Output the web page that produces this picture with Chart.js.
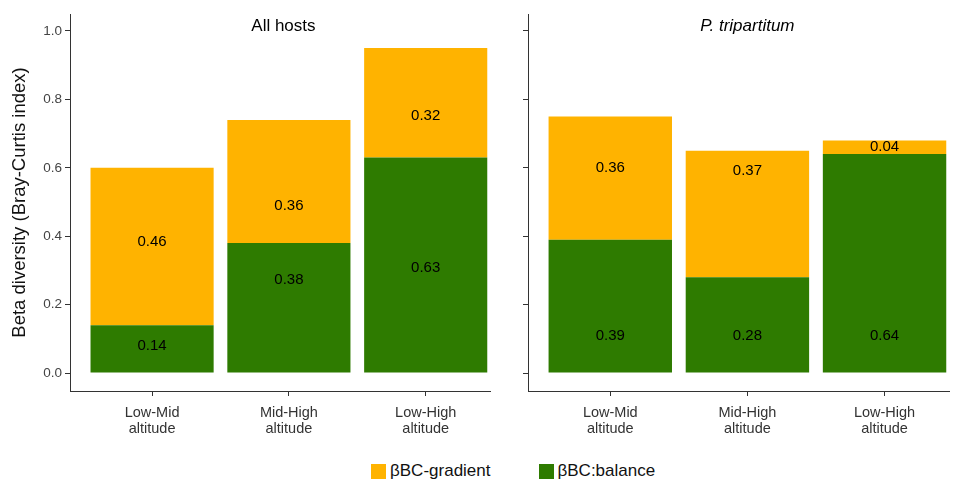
<!DOCTYPE html>
<html>
<head>
<meta charset="utf-8">
<script src="https://cdn.jsdelivr.net/npm/chart.js@4.4.1/dist/chart.umd.min.js"></script>
<style>
  body { margin: 0; background: #fff; width: 956px; height: 483px; overflow: hidden; position: relative; font-family: "Liberation Sans", Arial, sans-serif; }
  .panel { position: absolute; top: 0; height: 450px; }
  #legend { position: absolute; top: 461px; left: 371px; display: flex; font-size: 17px; color: #111; }
  .item { display: flex; align-items: center; }
  .item .sw { width: 15px; height: 15px; margin-right: 4px; }
</style>
</head>
<body>
<div class="panel" style="left:0;width:505px"><canvas id="c1" width="505" height="450"></canvas></div>
<div class="panel" style="left:505px;width:451px"><canvas id="c2" width="451" height="450"></canvas></div>
<div id="legend"></div>
<script>
// categories and values
var categorias = [['Low-Mid', 'altitude'], ['Mid-High', 'altitude'], ['Low-High', 'altitude']];
var titulos = ['All hosts', 'P. tripartitum'];
var seriesNames = ['\u03b2BC-gradient', '\u03b2BC:balance'];
var seriesColors = ['#FFB300', '#2E7B00'];

var allBalance = [0.14, 0.38, 0.63];
var allGradient = [0.46, 0.36, 0.32];
var tripBalance = [0.39, 0.28, 0.64];
var tripGradient = [0.36, 0.37, 0.04];

// where the numbers sit inside the bars (in y units)
var allBalanceAt = [0.078, 0.273, 0.307];
var allGradientAt = [0.383, 0.489, 0.752];
var tripBalanceAt = [0.109, 0.109, 0.109];
var tripGradientAt = [0.599, 0.592, 0.66];

var yTicks = [0, 0.2, 0.4, 0.6, 0.8, 1.0];

Chart.defaults.font.family = '"Liberation Sans", Arial, sans-serif';
Chart.defaults.animation = false;

// draws the numbers and the panel title
var etiquetas = {
    id: 'etiquetas',
    afterDatasetsDraw: function(chart, args, opts){
        var ctx = chart.ctx;
        var xs = chart.scales.x, ys = chart.scales.y;
        ctx.save();
        ctx.fillStyle = '#000';
        ctx.font = '15px "Liberation Sans", Arial';
        ctx.textAlign = 'center';
        ctx.textBaseline = 'middle';
        for (var i = 0; i < opts.balance.length; i++) {
            var px = xs.getPixelForValue(i);
            ctx.fillText(opts.balance[i].toFixed(2), px, ys.getPixelForValue(opts.balanceAt[i]));
            ctx.fillText(opts.gradient[i].toFixed(2), px, ys.getPixelForValue(opts.gradientAt[i]));
        }
        ctx.font = (opts.italic ? 'italic ' : '') + '17px "Liberation Sans", Arial';
        ctx.textBaseline = 'alphabetic';
        ctx.fillText(opts.titulo, xs.getPixelForValue(opts.italic ? 1 : 0.96), 31);
        ctx.restore();
    }
};

function panel(id, balance, gradient, balanceAt, gradientAt, titulo, italic, izquierda){
    var grafica = document.getElementById(id).getContext('2d');
    return new Chart(grafica, {
        type: 'bar',
        data: {
            datasets: [{
                label: seriesNames[1],
                backgroundColor: seriesColors[1],
                data: balance.map(function(v, i){ return {x: i, y: v}; })
            }, {
                label: seriesNames[0],
                backgroundColor: seriesColors[0],
                data: gradient.map(function(v, i){ return {x: i, y: v}; })
            }]
        },
        options: {
            responsive: false,
            categoryPercentage: 0.9,
            barPercentage: 1,
            layout: { padding: { top: 14, right: izquierda ? 15 : 7, left: 0, bottom: 0 } },
            plugins: {
                legend: { display: false },
                tooltip: { enabled: false },
                etiquetas: { balance: balance, gradient: gradient, balanceAt: balanceAt, gradientAt: gradientAt, titulo: titulo, italic: italic }
            },
            scales: {
                x: {
                    type: 'linear',
                    stacked: true,
                    offset: false,
                    min: -0.6,
                    max: 2.47,
                    afterBuildTicks: function(s){ s.ticks = [{value: 0}, {value: 1}, {value: 2}]; },
                    afterFit: function(s){ s.height = 59; },
                    grid: { offset: false, drawOnChartArea: false, drawTicks: true, tickLength: 5, color: '#333' },
                    border: { display: true, color: '#333', width: 1 },
                    ticks: {
                        padding: 9,
                        color: '#333',
                        font: { size: 14.5, lineHeight: 1.1 },
                        maxRotation: 0,
                        callback: function(v){ return categorias[v]; }
                    }
                },
                y: {
                    stacked: true,
                    min: -0.0526,
                    max: 1.0497,
                    afterBuildTicks: function(s){ s.ticks = yTicks.map(function(v){ return {value: v}; }); },
                    afterFit: function(s){ s.width = izquierda ? 70 : 23; },
                    grid: { drawOnChartArea: false, drawTicks: true, tickLength: 5, color: '#333' },
                    border: { display: true, color: '#333', width: 1 },
                    ticks: {
                        display: izquierda,
                        padding: 3,
                        color: '#444',
                        font: { size: 13.5 },
                        callback: function(v){ return v.toFixed(1); }
                    },
                    title: {
                        display: izquierda,
                        text: 'Beta diversity (Bray-Curtis index)',
                        color: '#111',
                        font: { size: 18.5 },
                        padding: { top: 9, bottom: 0 }
                    }
                }
            }
        },
        plugins: [etiquetas]
    });
}

panel('c1', allBalance, allGradient, allBalanceAt, allGradientAt, titulos[0], false, true);
panel('c2', tripBalance, tripGradient, tripBalanceAt, tripGradientAt, titulos[1], true, false);

// legend below both panels
var ley = document.getElementById('legend');
seriesNames.forEach(function(n, i){
    var it = document.createElement('div');
    it.className = 'item';
    if (i == 0) it.style.marginRight = '48px';
    var sw = document.createElement('span');
    sw.className = 'sw';
    sw.style.background = seriesColors[i];
    var tx = document.createElement('span');
    tx.textContent = n;
    it.appendChild(sw);
    it.appendChild(tx);
    ley.appendChild(it);
});
</script>
</body>
</html>
